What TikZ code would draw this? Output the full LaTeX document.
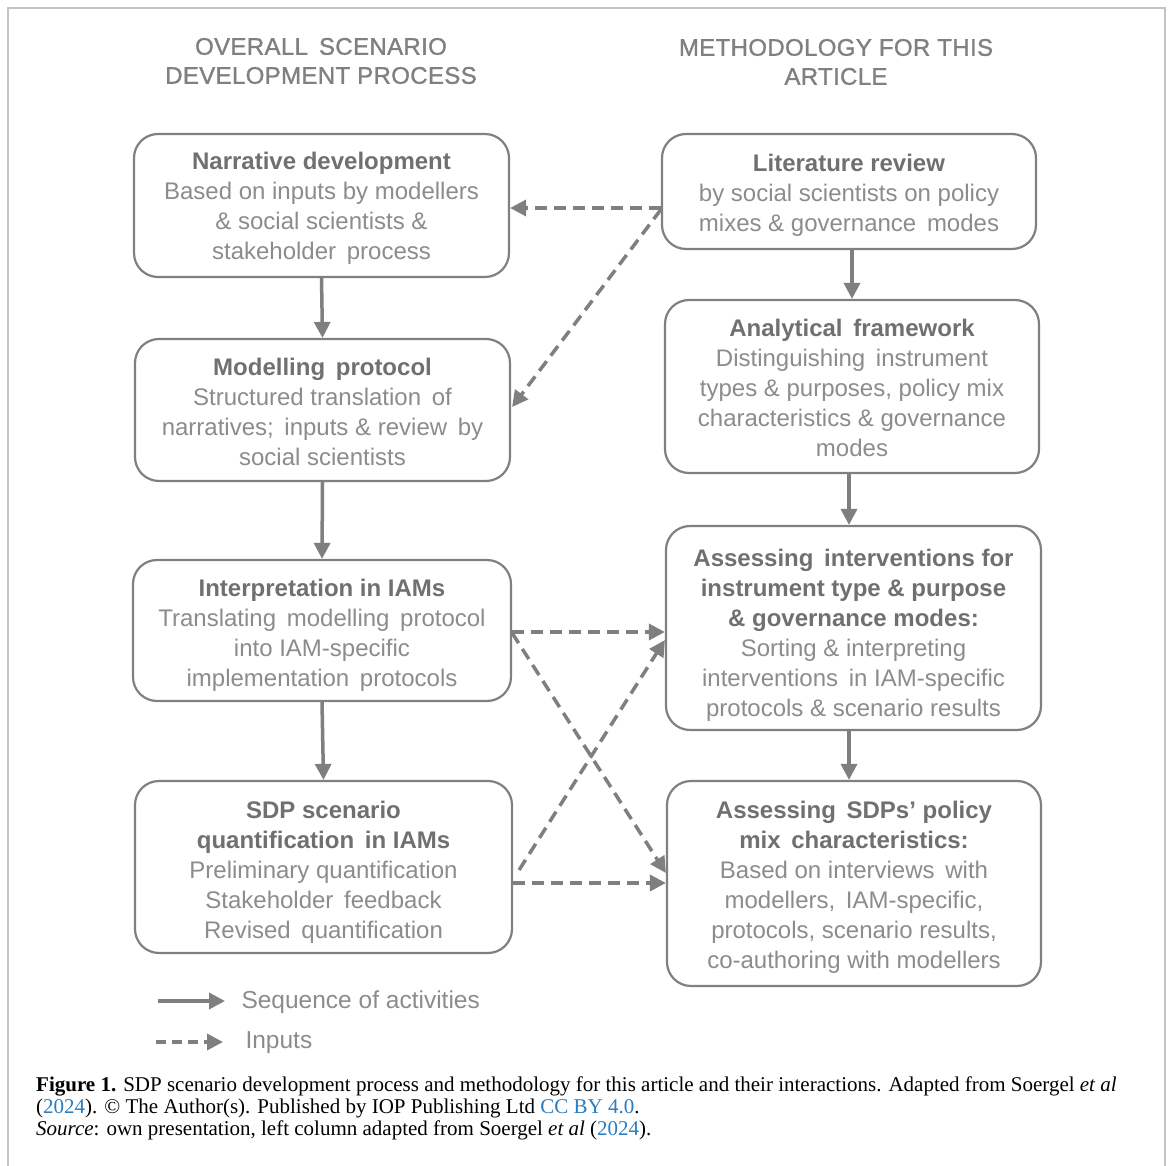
\documentclass[tikz,border=0pt]{standalone}
\usepackage{fontspec}
\setmainfont{Liberation Sans}
\newfontfamily\capfont{Liberation Serif}
\newfontfamily\headfont[FakeBold=1.2,LetterSpace=1.5]{Liberation Sans}
\usetikzlibrary{arrows.meta}
\definecolor{boxc}{HTML}{808080}
\definecolor{titlec}{HTML}{707070}
\definecolor{bodyc}{HTML}{8C8C8C}
\definecolor{headc}{HTML}{808080}
\definecolor{arrc}{HTML}{7F7F7F}
\definecolor{framec}{HTML}{C4C4C4}
\definecolor{linkc}{HTML}{2A7DC0}
\newcommand{\tb}[1]{{\bfseries\color{titlec}#1}}
% box content: width, height, extra top space (twice the downward shift), text
\newcommand{\bx}[4]{\parbox[c][#2][c]{#1}{\centering\vspace*{#3}#4\par}}
\tikzset{
  stepbox/.style={draw=boxc, line width=2.2pt, rounded corners=24pt,
    text=bodyc, font=\fontsize{24}{30}\selectfont, inner sep=0pt},
  seqarrow/.style={draw=arrc, line width=3.5pt, -{Triangle[length=16pt,width=16pt]}},
  inarrow/.style={draw=arrc, line width=3.5pt, dash pattern=on 12pt off 7pt,
    -{Triangle[length=16pt,width=16pt]}},
  headtxt/.style={align=center, text=headc, font=\headfont\fontsize{24}{29}\selectfont},
  legtxt/.style={anchor=west, text=bodyc, font=\fontsize{24.5}{30}\selectfont},
  captxt/.style={anchor=base west, font=\capfont\fontsize{21}{22}\selectfont, inner sep=0pt}
}
\begin{document}
\begin{tikzpicture}[x=1pt,y=-1pt]
\useasboundingbox (0,0) rectangle (1171,1166);
\fill[white] (0,0) rectangle (1171,1166);
\draw[framec, line width=2pt] (8,1170) -- (8,8) -- (1165,8) -- (1165,1170);

% headings
\node[headtxt] (hl) at (321,61) {OVERALL\, SCENARIO\\DEVELOPMENT PROCESS};
\node[headtxt] (hr) at (836,62) {METHODOLOGY FOR THIS\\ARTICLE};

% left column
\node[stepbox] (n1) at (321.5,205.5)
  {\bx{375pt}{143pt}{6pt}{\tb{Narrative development}\\Based on inputs by modellers\\\& social scientists \&\\stakeholder\, process}};
\node[stepbox] (n2) at (322.5,410)
  {\bx{375pt}{142pt}{4pt}{\tb{Modelling\, protocol}\\Structured translation\, of\\narratives;\, inputs \& review\, by\\social scientists}};
\node[stepbox] (n3) at (322,630.5)
  {\bx{378pt}{141pt}{10pt}{\tb{Interpretation in IAMs}\\Translating\, modelling\, protocol\\into IAM-specific\\implementation\, protocols}};
\node[stepbox] (n4) at (323.5,867)
  {\bx{377pt}{172pt}{10pt}{\tb{SDP scenario}\\\tb{quantification\, in IAMs}\\Preliminary quantification\\Stakeholder\, feedback\\Revised\, quantification}};

% right column
\node[stepbox] (r1) at (849,191.5)
  {\bx{374pt}{115pt}{8pt}{\tb{Literature review}\\by social scientists on policy\\mixes \& governance\, modes}};
\node[stepbox] (r2) at (852,386.5)
  {\bx{374pt}{173pt}{3pt}{\tb{Analytical\, framework}\\Distinguishing\, instrument\\types \& purposes, policy mix\\characteristics \& governance\\modes}};
\node[stepbox] (r3) at (853.5,628)
  {\bx{375pt}{204pt}{14pt}{\tb{Assessing\, interventions for}\\\tb{instrument type \& purpose}\\\tb{\& governance modes:}\\Sorting \& interpreting\\interventions\, in IAM-specific\\protocols \& scenario results}};
\node[stepbox] (r4) at (854,883.5)
  {\bx{374pt}{205pt}{8pt}{\tb{Assessing\, SDPs' policy}\\\tb{mix\, characteristics:}\\Based on interviews\, with\\modellers,\, IAM-specific,\\protocols, scenario results,\\co-authoring with modellers}};

% sequence arrows
\draw[seqarrow] (n1.south) -- (n2.north);
\draw[seqarrow] (n2.south) -- (n3.north);
\draw[seqarrow] (n3.south) -- (n4.north);
\draw[seqarrow] ([xshift=3pt]r1.south) -- ([xshift=0pt]r2.north);
\draw[seqarrow] ([xshift=-3pt]r2.south) -- ([xshift=-4.5pt]r3.north);
\draw[seqarrow] ([xshift=-4.5pt]r3.south) -- ([xshift=-5pt]r4.north);

% input arrows
\draw[inarrow] ([yshift=-16.5pt]r1.west) -- ([yshift=-2.5pt]n1.east);
\draw[inarrow] ([yshift=-18pt]r1.west) -- ([xshift=1pt,yshift=3pt]n2.east);
\draw[inarrow] ([yshift=-1.5pt]n3.east) -- ([yshift=-4pt]r3.west);
\draw[inarrow] ([yshift=-2.5pt]n3.east) -- ([yshift=10.5pt]r4.west);
\draw[inarrow] ([xshift=6pt,yshift=-3pt]n4.east) -- ([yshift=-12pt]r3.west);
\draw[inarrow] ([yshift=-16pt]n4.east) -- ([yshift=0.5pt]r4.west);

% legend
\coordinate (l1a) at (158,1001);
\coordinate (l1b) at (225,1001);
\coordinate (l2a) at (156,1042);
\coordinate (l2b) at (223,1042);
\draw[seqarrow] (l1a) -- (l1b);
\draw[inarrow, dash pattern=on 10pt off 6pt] (l2a) -- (l2b);
\node[legtxt] (lt1) at (238,1002) {Sequence of activities};
\node[legtxt] (lt2) at (242,1043) {Inputs};

% caption
\node[captxt] (c1) at (36,1091) {\textbf{Figure 1.} SDP scenario development process and methodology for this article and their interactions. Adapted from Soergel \textit{et al}};
\node[captxt] (c2) at (36,1113) {(\textcolor{linkc}{2024}). © The Author(s). Published by IOP Publishing Ltd \textcolor{linkc}{CC BY 4.0}.};
\node[captxt] (c3) at (36,1135) {\textit{Source}: own presentation, left column adapted from Soergel \textit{et al} (\textcolor{linkc}{2024}).};
\end{tikzpicture}
\end{document}
